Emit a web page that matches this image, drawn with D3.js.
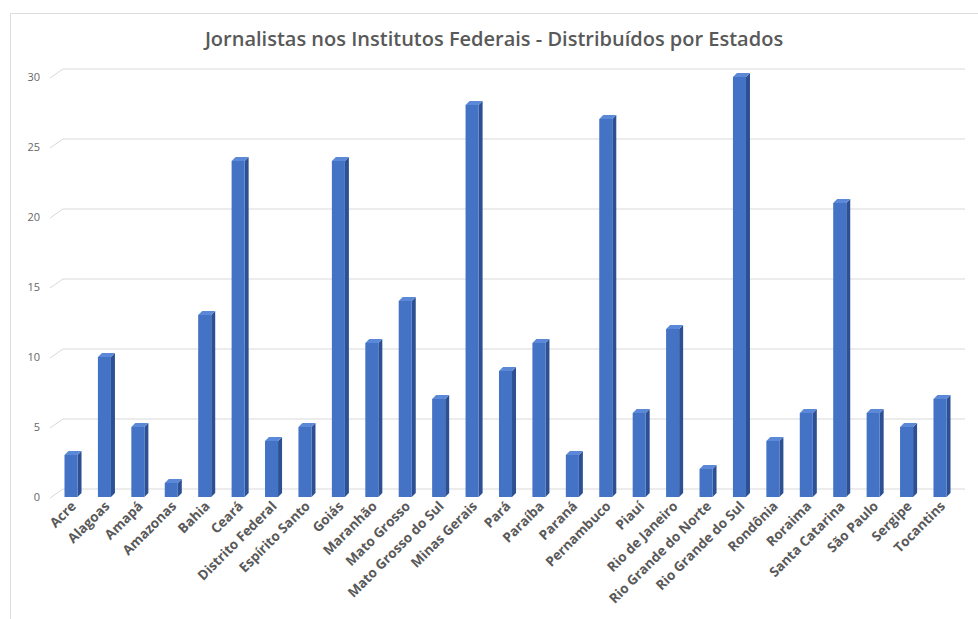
<!DOCTYPE html>
<html>
<head>
<meta charset="utf-8">
<script src="https://cdn.jsdelivr.net/npm/d3@7"></script>
<style>
  body { margin: 0; background: #fff; }
  text { font-family: "Open Sans", sans-serif; }
</style>
</head>
<body>
<div id="chart"></div>
<script>
const estados = ["Acre", "Alagoas", "Amapá", "Amazonas", "Bahia", "Ceará", "Distrito Federal",
  "Espírito Santo", "Goiás", "Maranhão", "Mato Grosso", "Mato Grosso do Sul", "Minas Gerais",
  "Pará", "Paraíba", "Paraná", "Pernambuco", "Piauí", "Rio de Janeiro", "Rio Grande do Norte",
  "Rio Grande do Sul", "Rondônia", "Roraima", "Santa Catarina", "São Paulo", "Sergipe", "Tocantins"];
const jornalistas = [3, 10, 5, 1, 13, 24, 4, 5, 24, 11, 14, 7, 28, 9, 11, 3, 27, 6, 12, 2, 30, 4, 6, 21, 6, 5, 7];
const yTicks = [0, 5, 10, 15, 20, 25, 30];
const titulo = "Jornalistas nos Institutos Federais - Distribuídos por Estados";

const width = 978, height = 619;
const depth = 4;      // 3d offset of the bars
const wall = { dx: 13, dy: 9 };  // back wall offset for gridlines

const svg = d3.select("#chart").append("svg")
  .attr("width", width)
  .attr("height", height);

// chart area border
svg.append("rect")
  .attr("x", 10.5).attr("y", 13.5)
  .attr("width", 1000).attr("height", 700)
  .attr("fill", "#fff")
  .attr("stroke", "#dedede");

const x = d3.scaleBand()
  .domain(estados)
  .range([54.3, 956.7])
  .paddingInner(0.61)
  .paddingOuter(0.305);

const y = d3.scaleLinear()
  .domain([0, 30])
  .range([497, 77]);

// gridlines with the little slanted floor piece
svg.append("g")
  .selectAll("path")
  .data(yTicks)
  .join("path")
  .attr("fill", "none")
  .attr("stroke", "#d9d9d9")
  .attr("stroke-width", 1)
  .attr("d", d => `M50,${y(d) + 1}L${50 + wall.dx},${y(d) + 1 - wall.dy}L965,${y(d) + 1 - wall.dy}`);

svg.append("g")
  .selectAll("text")
  .data(yTicks)
  .join("text")
  .attr("x", 40)
  .attr("y", d => y(d) + 4)
  .attr("text-anchor", "end")
  .attr("font-size", 11)
  .attr("fill", "#666")
  .text(d => d);

// bars
const bw = x.bandwidth();
const bars = svg.append("g")
  .selectAll("g")
  .data(estados.map((e, i) => ({ estado: e, valor: jornalistas[i] })))
  .join("g");

bars.append("path")
  .attr("fill", "#2c5093")
  .attr("d", d => {
    const x1 = x(d.estado) + bw, yt = y(d.valor), yb = y(0);
    return `M${x1},${yt}L${x1 + depth},${yt - depth}L${x1 + depth},${yb - depth}L${x1},${yb}Z`;
  });

bars.append("path")
  .attr("fill", "#5b89d8")
  .attr("d", d => {
    const x0 = x(d.estado), yt = y(d.valor);
    return `M${x0},${yt}L${x0 + depth},${yt - depth}L${x0 + bw + depth},${yt - depth}L${x0 + bw},${yt}Z`;
  });

bars.append("rect")
  .attr("x", d => x(d.estado))
  .attr("y", d => y(d.valor))
  .attr("width", bw)
  .attr("height", d => y(0) - y(d.valor))
  .attr("fill", "#4472c4");

// category labels
svg.append("g")
  .selectAll("text")
  .data(estados)
  .join("text")
  .attr("transform", d => `translate(${x(d) + bw / 2 + 6},${507}) rotate(-45)`)
  .attr("text-anchor", "end")
  .attr("font-size", 13.5)
  .attr("font-weight", 700)
  .attr("fill", "#595959")
  .text(d => d);

svg.append("text")
  .attr("x", 494)
  .attr("y", 46)
  .attr("text-anchor", "middle")
  .attr("font-size", 20)
  .attr("font-weight", 600)
  .attr("fill", "#595959")
  .text(titulo);
</script>
</body>
</html>
